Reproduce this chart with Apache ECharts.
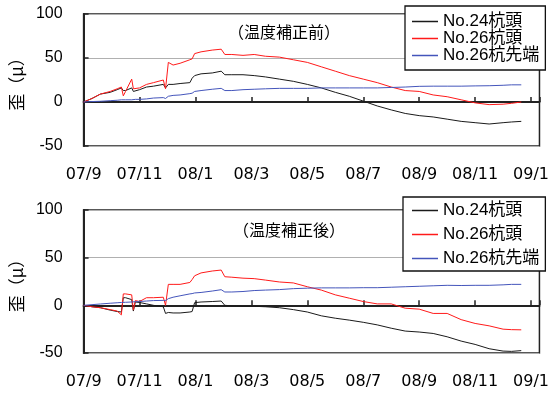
<!DOCTYPE html>
<html><head><meta charset="utf-8">
<script src="https://cdn.jsdelivr.net/npm/echarts@6/dist/echarts.min.js"></script>
<style>html,body{margin:0;padding:0;background:#fff}#c{width:552px;height:394px}</style>
</head><body><div id="c"></div>
<script>
// x = months since 2007/9
const xLabels = ['07/9','07/11','08/1','08/3','08/5','08/7','08/9','08/11','09/1'];
const yTicks = [-50, 0, 50, 100];
const names = ['No.24杭頭','No.26杭頭','No.26杭先端'];
const T = [0,0.3,0.6,0.95,1.2,1.35,1.42,1.5,1.72,1.78,1.85,2.0,2.25,2.5,2.85,2.93,3.03,3.2,3.45,3.8,3.88,3.97,4.2,4.6,4.92,5.05,5.3,5.7,6.1,6.5,7.0,7.5,8.0,8.5,9.0,9.5,10.0,10.5,11.0,11.5,12.0,12.5,13.0,13.5,14.0,14.5,15.0,15.3,15.65];
// before temperature correction
const preNo24Head = [0,4,9,11,14,16,13,13,16,12,13,14,17,18,20,16,20,20,21,22,27,30,32,33,35,31,31,31,30,28.5,26,23.5,20,16,11,6.5,1,-4.5,-9,-13,-15.5,-17,-19.5,-22,-23.5,-25,-23.5,-22.7,-22];
const preNo26Head = [0,4,9,12,15,17,7,12,26,15,17,16,20,22,25,15,45,42,44,48,49,55,57,59,60,54,54,53,54,52,51,48,45,40,35,30,26,22,17,13,12,8,6,2.5,-1,-3,-2.5,-1.5,0];
const preNo26Tip = [0,0.5,0.8,1.5,2,2.5,2.5,2.5,2.5,2.5,3,3,3.5,4.5,5,4,6.5,7.5,8,9.5,10,12,13,14.5,15.5,13,13,14,14.5,15,15.5,15.5,15.5,16,16,16,16,16,16.5,17,17.8,18,18,18,18.3,18.5,19,19.5,19.5];
// after temperature correction
const postNo24Head = [0,-1.5,-2.5,-5,-6.5,-7,8,8,6,-6,3.5,3,1.5,0,-1.5,-8.5,-7.5,-8,-8,-7,-6.5,2.8,3.5,4,4.5,0,-0.5,-1,-1,-1.5,-2.5,-4.5,-7,-11,-13.5,-15.5,-17.8,-20.5,-24,-27,-28,-29.5,-33,-37.5,-41,-45.5,-48,-48.3,-47.5];
const postNo26Head = [0,-1.5,-2.5,-4.5,-6,-10,12,12,11,-5,5,4,8,8,8.5,0,22,22,22,24,27,31,34,36,37,30,29.5,28.5,28,26.5,24.5,23.5,19.5,16,11,7.5,4,1.5,1.5,-3,-4,-8.5,-8.5,-15,-19,-21.5,-25,-25.5,-25.7];
const postNo26Tip = [0,0.7,1.4,2.2,2.7,3,3,3.2,3.5,3.5,3.8,4,4.5,5,5.2,5,7,8.5,10,12,12.3,13,13.5,15,16.4,14,14,14.5,15.5,16,16.5,17.5,18,18.3,18.3,18.3,18.5,18.5,19,19.5,20,20.5,21,20.8,21,21,21.5,22,22];

const colors = ['#1a1a1a','#ff1a1a','#4455bb'];
const pair = v => T.map((t,i)=>[t,v[i]]);
const jp = '"Noto Sans CJK JP"';

function xAxis(gi){
  return {type:'value', gridIndex:gi, min:0, max:16.3, interval:2,
    axisLine:{show:true,lineStyle:{color:'#222',width:2}},
    axisTick:{show:true,inside:true,length:5,lineStyle:{color:'#222',width:1.5}},
    splitLine:{show:false},
    axisLabel:{margin:21,color:'#000',fontSize:16,fontFamily:'DejaVu Sans',
      formatter:v=>{const i=v/2;return Number.isInteger(i)&&xLabels[i]!==undefined?xLabels[i]:'';}}};
}
function yAxis(gi){
  return {type:'value', gridIndex:gi, min:yTicks[0], max:yTicks[yTicks.length-1], interval:50,
    name:'歪（μ）', nameLocation:'middle', nameGap:50, nameRotate:90,
    nameTextStyle:{fontSize:17,color:'#000',fontFamily:jp},
    axisLine:{show:true,lineStyle:{color:'#222',width:2}},
    axisTick:{show:true,inside:true,length:5,lineStyle:{color:'#222',width:1.5}},
    splitLine:{show:true,lineStyle:{color:'#b0b0b0',width:1}},
    axisLabel:{margin:21,color:'#000',fontSize:16,fontFamily:'Liberation Sans'}};
}
function ser(name,data,gi,ci){
  return {name, type:'line', xAxisIndex:gi, yAxisIndex:gi, data:pair(data),
    showSymbol:false, symbol:'none', color:colors[ci],
    lineStyle:{color:colors[ci],width:1}, itemStyle:{color:colors[ci]}, z:3};
}
function legend(left,top,padding,gap){
  return {show:true, orient:'vertical', left, top, padding, itemGap:gap,
    data:names, icon:'rect', itemWidth:26, itemHeight:1.5,
    backgroundColor:'#fff', borderColor:'#111', borderWidth:1.3, borderRadius:0,
    textStyle:{fontSize:17, lineHeight:16.5, color:'#000', fontFamily:'Liberation Sans, '+jp},
    selectedMode:false, z:10};
}
const chart = echarts.init(document.getElementById('c'));
chart.setOption({
  animation:false,
  backgroundColor:'#fff',
  grid:[
    {left:81, top:14, width:461, height:132, show:true, borderColor:'#222', borderWidth:1.5, backgroundColor:'transparent'},
    {left:83, top:210, width:459, height:143, show:true, borderColor:'#222', borderWidth:1.5, backgroundColor:'transparent'}
  ],
  xAxis:[xAxis(0), xAxis(1)],
  yAxis:[yAxis(0), yAxis(1)],
  legend:[legend(405,6,[7,6,6,7],0), legend(403,197,[5,6,4,9],7)],
  graphic:[
    {type:'text', left:228, top:24, z:5, style:{text:'（温度補正前）', font:'16px '+jp, fill:'#000'}},
    {type:'text', left:233, top:222, z:5, style:{text:'（温度補正後）', font:'16px '+jp, fill:'#000'}}
  ],
  series:[
    ser(names[0],preNo24Head,0,0), ser(names[1],preNo26Head,0,1), ser(names[2],preNo26Tip,0,2),
    ser(names[0],postNo24Head,1,0), ser(names[1],postNo26Head,1,1), ser(names[2],postNo26Tip,1,2)
  ]
});
</script></body></html>
